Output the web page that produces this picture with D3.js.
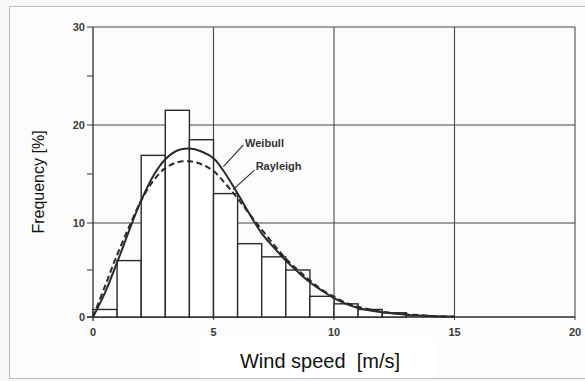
<!DOCTYPE html>
<html>
<head>
<meta charset="utf-8">
<script src="https://cdn.jsdelivr.net/npm/d3@7"></script>
<style>
  html, body { margin: 0; padding: 0; background: #f7f7f7; }
  svg { display: block; font-family: "Liberation Sans", Arial, sans-serif; }
</style>
</head>
<body>
<div id="chart"></div>
<script>
// histogram: 1 m/s bins starting at 0
const binStarts = [0, 1, 2, 3, 4, 5, 6, 7, 8, 9, 10, 11, 12];
const binFreq = [0.8, 6.0, 16.9, 21.5, 18.5, 13.0, 7.8, 6.4, 5.0, 2.2, 1.4, 0.8, 0.45];

// curves
const curveSpeed = [0, 0.5, 1, 1.5, 2, 2.5, 3, 3.5, 4, 4.5, 5, 5.5, 6, 6.5, 7, 7.5, 8, 8.5, 9, 9.5, 10, 10.5, 11, 11.5, 12, 13, 14, 15];
const weibull = [0, 2.6, 5.8, 9.2, 12.3, 14.8, 16.5, 17.4, 17.6, 17.3, 16.6, 15.0, 13.0, 10.9, 8.9, 7.4, 6.0, 4.8, 3.7, 2.8, 2.0, 1.4, 0.95, 0.7, 0.5, 0.25, 0.1, 0.02];
const rayleigh = [0, 3.3, 6.6, 9.6, 12.3, 14.3, 15.6, 16.2, 16.3, 16.0, 15.3, 14.0, 12.5, 10.9, 9.3, 7.7, 6.2, 5.0, 3.9, 2.9, 2.15, 1.5, 1.1, 0.8, 0.55, 0.3, 0.12, 0.04];

const xTicks = [0, 5, 10, 15, 20];
const yTicks = [0, 10, 20, 30];
const yMinorTicks = [5, 15, 25];

const width = 585, height = 381;
const svg = d3.select("#chart").append("svg")
  .attr("width", width)
  .attr("height", height);

// scanned frame + white patch under the x title
svg.append("rect")
  .attr("x", 9.5).attr("y", 6.5)
  .attr("width", 590).attr("height", 372)
  .attr("fill", "#fcfcfc")
  .attr("stroke", "#bdbdbd");
svg.append("rect")
  .attr("x", 200).attr("y", 337)
  .attr("width", 238).attr("height", 41)
  .attr("fill", "#fff");

const x = d3.scaleLinear().domain([0, 20]).range([93, 575]);
// the scan is slightly uneven, so y is piecewise
const y = d3.scaleLinear().domain([0, 10, 20, 30]).range([317, 223, 125, 27]);

const ink = "#2a2a2a";

// grid
svg.append("g").selectAll("line")
  .data(yTicks.slice(1))
  .join("line")
  .attr("x1", x(0)).attr("x2", x(20))
  .attr("y1", d => y(d)).attr("y2", d => y(d))
  .attr("stroke", "#444").attr("stroke-width", 1.1);
svg.append("g").selectAll("line")
  .data(xTicks.slice(1))
  .join("line")
  .attr("x1", d => x(d)).attr("x2", d => x(d))
  .attr("y1", y(0) + 3).attr("y2", y(30))
  .attr("stroke", "#444").attr("stroke-width", 1.1);

// axes
svg.append("line")
  .attr("x1", x(0)).attr("x2", x(0))
  .attr("y1", y(0) + 4).attr("y2", y(30))
  .attr("stroke", ink).attr("stroke-width", 1.3);
svg.append("line")
  .attr("x1", x(0) - 6).attr("x2", x(20))
  .attr("y1", y(0)).attr("y2", y(0))
  .attr("stroke", ink).attr("stroke-width", 1.4);

svg.append("g").selectAll("line")
  .data(yTicks.concat(yMinorTicks))
  .join("line")
  .attr("x1", x(0) - 6).attr("x2", x(0))
  .attr("y1", d => y(d)).attr("y2", d => y(d))
  .attr("stroke", "#444").attr("stroke-width", 1.1);

svg.append("g").selectAll("text")
  .data(yTicks)
  .join("text")
  .attr("x", x(0) - 8)
  .attr("y", d => y(d) + 4)
  .attr("text-anchor", "end")
  .attr("font-size", 11)
  .attr("font-weight", "bold")
  .attr("fill", "#3a3a3a")
  .text(d => d);

svg.append("g").selectAll("text")
  .data(xTicks)
  .join("text")
  .attr("x", d => x(d))
  .attr("y", y(0) + 19)
  .attr("text-anchor", "middle")
  .attr("font-size", 11)
  .attr("font-weight", "bold")
  .attr("fill", "#3a3a3a")
  .text(d => d);

// histogram bars
svg.append("g").selectAll("rect")
  .data(binStarts)
  .join("rect")
  .attr("x", d => x(d))
  .attr("y", (d, i) => y(binFreq[i]))
  .attr("width", d => x(d + 1) - x(d))
  .attr("height", (d, i) => y(0) - y(binFreq[i]))
  .attr("fill", "#fff")
  .attr("stroke", ink)
  .attr("stroke-width", 1.4);

// fitted curves
const line = d3.line()
  .x((d, i) => x(curveSpeed[i]))
  .y(d => y(d))
  .curve(d3.curveCatmullRom);

svg.append("path")
  .attr("d", line(rayleigh))
  .attr("fill", "none")
  .attr("stroke", ink)
  .attr("stroke-width", 2)
  .attr("stroke-dasharray", "6,3.5");

svg.append("path")
  .attr("d", line(weibull))
  .attr("fill", "none")
  .attr("stroke", ink)
  .attr("stroke-width", 2);

// curve labels with leader lines
svg.append("line")
  .attr("x1", x(6.24)).attr("y1", y(17.96))
  .attr("x2", x(5.41)).attr("y2", y(15.75))
  .attr("stroke", ink).attr("stroke-width", 1.1);
svg.append("line")
  .attr("x1", x(6.7)).attr("y1", y(15.4))
  .attr("x2", x(5.81)).attr("y2", y(13.4))
  .attr("stroke", ink).attr("stroke-width", 1.1);

svg.append("text")
  .attr("x", x(6.31)).attr("y", y(17.8))
  .attr("font-size", 11).attr("font-weight", "bold")
  .attr("fill", "#333")
  .text("Weibull");
svg.append("text")
  .attr("x", x(6.75)).attr("y", y(15.36))
  .attr("font-size", 11).attr("font-weight", "bold")
  .attr("fill", "#333")
  .text("Rayleigh");

// axis titles
svg.append("text")
  .attr("transform", "translate(44,182) rotate(-90)")
  .attr("text-anchor", "middle")
  .attr("font-size", 16)
  .attr("fill", "#111")
  .text("Frequency [%]");

svg.append("text")
  .attr("x", 320).attr("y", 368)
  .attr("text-anchor", "middle")
  .attr("font-size", 20)
  .attr("fill", "#111")
  .style("white-space", "pre")
  .text("Wind speed  [m/s]");
</script>
</body>
</html>
